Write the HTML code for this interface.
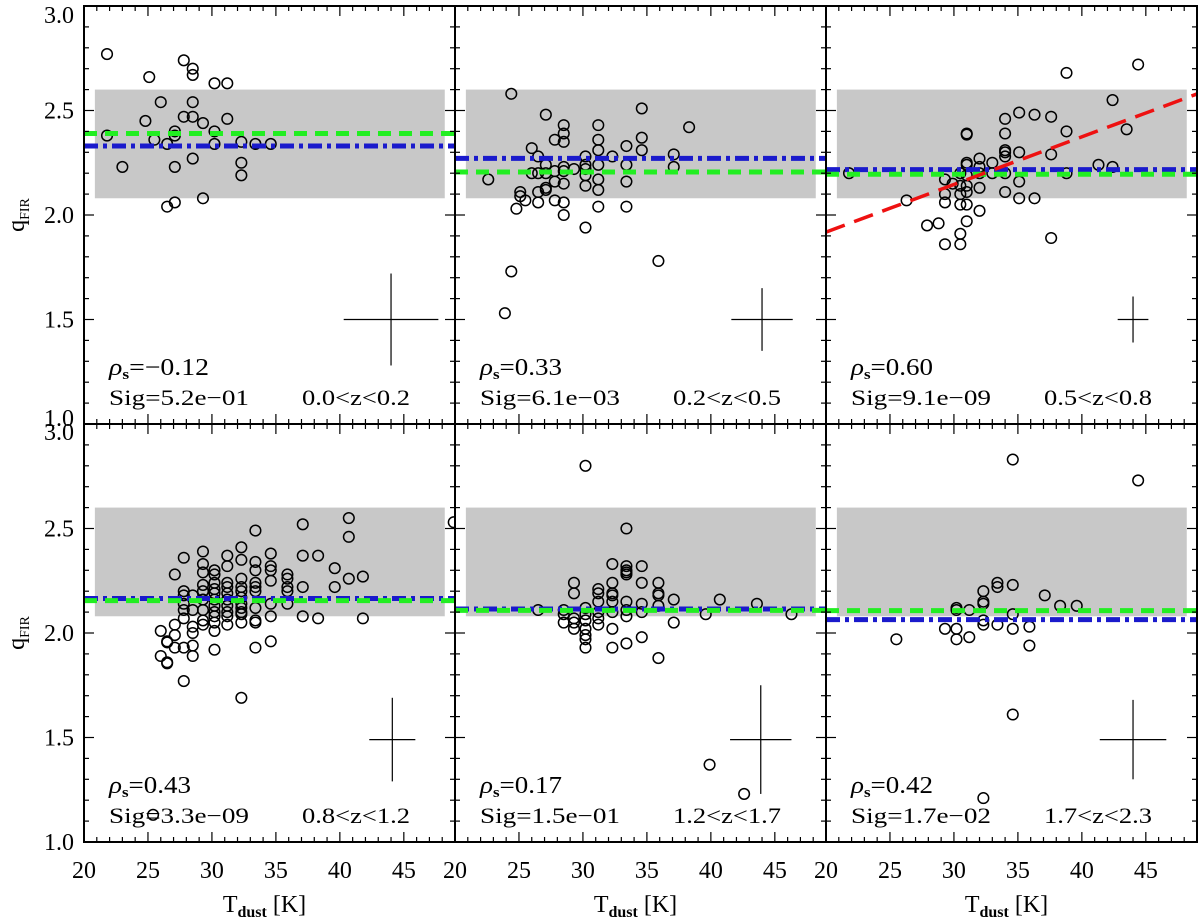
<!DOCTYPE html>
<html><head><meta charset="utf-8"><style>
html,body{margin:0;padding:0;background:#fff;}
svg{display:block;font-family:"Liberation Serif","DejaVu Serif",serif;}
</style></head><body>
<svg id="chart" width="1200" height="920" viewBox="0 0 1200 920" xmlns="http://www.w3.org/2000/svg"></svg>
<script>
// ---- data ----
const xTicks = [20,25,30,35,40,45];
const yTicks = [1.0,1.5,2.0,2.5,3.0];
const p1T = [21.8,25.1,27.8,28.5,28.5,30.2,31.2,26.0,28.5,27.8,28.5,31.2,24.8,29.3,21.8,27.1,27.1,30.2,25.5,26.5,30.2,32.3,33.4,34.6,28.5,23.0,27.1,32.3,32.3,29.3,27.1,26.5];
const p1Q = [2.77,2.66,2.74,2.70,2.67,2.63,2.63,2.54,2.54,2.47,2.47,2.46,2.45,2.44,2.38,2.40,2.38,2.40,2.36,2.34,2.34,2.35,2.34,2.34,2.27,2.23,2.23,2.25,2.19,2.08,2.06,2.04];
const p2T = [24.4,27.1,34.6,28.5,31.2,38.3,28.5,27.8,28.5,31.2,34.6,33.4,26.0,31.2,34.6,26.5,30.2,32.3,37.1,27.1,28.5,29.3,30.2,30.2,31.2,33.4,37.1,26.0,26.5,27.1,27.8,28.5,30.2,31.2,22.6,27.8,28.5,33.4,30.2,27.1,27.1,26.5,31.2,25.1,25.1,25.5,27.8,28.5,26.5,24.8,31.2,33.4,28.5,30.2,35.9,24.4,23.9];
const p2Q = [2.58,2.48,2.51,2.43,2.43,2.42,2.39,2.36,2.35,2.36,2.37,2.33,2.32,2.31,2.31,2.28,2.28,2.28,2.29,2.24,2.23,2.22,2.24,2.22,2.24,2.24,2.23,2.20,2.20,2.20,2.21,2.21,2.19,2.17,2.17,2.16,2.15,2.16,2.14,2.13,2.12,2.11,2.12,2.11,2.09,2.07,2.07,2.06,2.06,2.03,2.04,2.04,2.00,1.94,1.78,1.73,1.53];
const p3T = [44.4,38.8,42.4,34.0,35.1,36.3,37.6,38.8,43.5,34.0,31.0,31.0,34.0,34.0,34.0,35.1,37.6,32.0,31.0,31.0,33.0,32.0,41.3,42.4,21.8,30.5,31.0,32.0,33.0,34.0,38.8,29.3,29.9,30.5,31.0,32.0,35.1,30.5,31.0,29.3,34.0,26.3,29.3,35.1,36.3,30.5,31.0,32.0,31.0,28.8,27.9,30.5,29.3,30.5,37.6];
const p3Q = [2.72,2.68,2.55,2.46,2.49,2.48,2.47,2.40,2.41,2.39,2.39,2.385,2.31,2.30,2.28,2.30,2.29,2.27,2.25,2.24,2.25,2.23,2.24,2.23,2.20,2.20,2.19,2.20,2.20,2.20,2.20,2.17,2.15,2.14,2.14,2.13,2.16,2.10,2.11,2.10,2.11,2.07,2.06,2.08,2.08,2.05,2.05,2.02,1.97,1.96,1.95,1.91,1.86,1.86,1.89];
const p4T = [48.9,40.7,40.7,37.1,33.4,29.3,27.8,32.3,31.2,37.1,38.3,34.6,32.3,33.4,29.3,34.6,31.2,30.2,33.4,34.6,39.6,27.1,29.3,41.8,40.7,35.9,30.2,32.3,34.6,35.9,31.2,30.2,33.4,29.3,35.9,37.1,39.6,33.4,32.3,31.2,30.2,27.8,29.3,32.3,33.4,35.9,31.2,30.2,28.5,27.8,32.3,29.3,30.2,31.2,34.6,35.9,27.8,32.3,30.2,31.2,32.3,27.8,28.5,29.3,30.2,31.2,32.3,33.4,30.2,31.2,32.3,37.1,38.3,41.8,34.6,27.8,29.3,33.4,33.4,29.3,30.2,31.2,32.3,28.5,27.1,30.2,28.5,26.0,27.1,26.5,26.5,27.1,27.8,28.5,30.2,33.4,34.6,26.0,28.5,26.5,26.5,27.8,32.3,25.4];
const p4Q = [2.53,2.55,2.46,2.52,2.49,2.39,2.36,2.41,2.37,2.37,2.37,2.38,2.35,2.34,2.33,2.32,2.32,2.30,2.30,2.30,2.31,2.28,2.29,2.27,2.26,2.28,2.28,2.26,2.25,2.26,2.24,2.24,2.24,2.23,2.22,2.22,2.22,2.22,2.22,2.22,2.21,2.20,2.20,2.20,2.20,2.20,2.19,2.19,2.18,2.18,2.17,2.16,2.16,2.16,2.14,2.14,2.14,2.14,2.13,2.13,2.12,2.11,2.11,2.11,2.10,2.10,2.10,2.12,2.08,2.08,2.09,2.08,2.07,2.07,2.08,2.07,2.06,2.06,2.05,2.04,2.05,2.04,2.05,2.03,2.04,2.01,2.00,2.01,1.99,1.96,1.955,1.93,1.93,1.94,1.92,1.93,1.96,1.89,1.89,1.86,1.855,1.77,1.69,1.13];
const p5T = [30.2,33.4,32.3,33.4,33.4,33.4,33.4,34.6,29.3,32.3,34.6,35.9,29.3,31.2,31.2,32.3,32.3,35.9,35.9,37.1,40.7,43.6,31.2,32.3,33.4,34.6,35.9,26.5,28.5,30.2,32.3,33.4,31.2,34.6,39.6,46.3,28.5,30.2,29.3,31.2,33.4,28.5,30.2,31.2,37.1,29.3,29.3,30.2,32.3,30.2,30.2,34.6,33.4,32.3,30.2,35.9,39.9,42.6];
const p5Q = [2.80,2.50,2.33,2.32,2.30,2.29,2.28,2.32,2.24,2.24,2.24,2.24,2.19,2.21,2.19,2.19,2.18,2.19,2.18,2.16,2.16,2.14,2.15,2.15,2.15,2.14,2.13,2.11,2.11,2.12,2.10,2.11,2.10,2.10,2.09,2.09,2.09,2.09,2.07,2.07,2.08,2.05,2.06,2.04,2.05,2.05,2.02,2.02,2.02,1.99,1.97,1.98,1.95,1.93,1.93,1.88,1.37,1.23];
const p6T = [34.6,44.4,33.4,33.4,34.6,32.3,37.1,32.3,32.3,38.3,39.6,30.2,30.2,31.2,34.6,32.3,32.3,33.4,29.3,30.2,34.6,35.9,25.5,30.2,31.2,35.9,34.6,32.3];
const p6Q = [2.83,2.73,2.24,2.22,2.23,2.20,2.18,2.15,2.14,2.13,2.13,2.12,2.11,2.11,2.09,2.06,2.04,2.04,2.02,2.02,2.02,2.03,1.97,1.97,1.98,1.94,1.61,1.21];
const greenMed = [2.39,2.206,2.195,2.155,2.108,2.107];
const blueMed = [2.33,2.271,2.217,2.165,2.115,2.064];
const errT = [3.7,2.4,1.2,1.8,2.4,2.6];
const errQ = [0.22,0.15,0.11,0.20,0.26,0.19];
const crossT = [44.0,44.0,44.0,44.1,43.9,44.0];
const crossQ = [1.5,1.5,1.5,1.49,1.49,1.49];
const rhoVals = ["\u22120.12","0.33","0.60","0.43","0.17","0.42"];
const sigVals = ["5.2e\u221201","6.1e\u221203","9.1e\u221209","3.3e\u221209","1.5e\u221201","1.7e\u221202"];
const zRanges = ["0.0<z<0.2","0.2<z<0.5","0.5<z<0.8","0.8<z<1.2","1.2<z<1.7","1.7<z<2.3"];
const bandLo = 2.08, bandHi = 2.60, bandT0 = 20.85, bandT1 = 48.2;
const fitSlope = 0.0228, fitIntercept = 1.462;

const panelsT = [p1T,p2T,p3T,p4T,p5T,p6T];
const panelsQ = [p1Q,p2Q,p3Q,p4Q,p5Q,p6Q];
const NS = "http://www.w3.org/2000/svg";
const svg = document.getElementById('chart');
const colX = [84,455,826], rowY = [6,424], PW = 371, PH = 418;
const TMIN = 20, TMAX = 49, QMIN = 1.0, QMAX = 3.0;

function mk(tag, attrs, parent){
  const e = document.createElementNS(NS, tag);
  for (const k in attrs) e.setAttribute(k, attrs[k]);
  (parent||svg).appendChild(e);
  return e;
}

for (let p = 0; p < 6; p++){
  const col = p % 3, row = Math.floor(p/3);
  const x0 = colX[col], y0 = rowY[row];
  const sx = t => x0 + (t - TMIN) / (TMAX - TMIN) * PW;
  const sy = q => y0 + (QMAX - q) / (QMAX - QMIN) * PH;
  const g = mk('g', {});
  
  
  const clipId = 'clip' + p;
  const cp = mk('clipPath', {id: clipId}, g);
  mk('rect', {x: x0, y: y0, width: PW, height: PH}, cp);
  const inner = mk('g', {'clip-path': 'url(#' + clipId + ')'}, g);

  const band = mk('rect', {x: sx(bandT0), y: sy(bandHi), width: sx(bandT1)-sx(bandT0), height: sy(bandLo)-sy(bandHi), fill: '#c8c8c8'}, inner);
  
  

  const T = panelsT[p], Q = panelsQ[p];
  for (let i = 0; i < T.length; i++){
    const c = mk('circle', {cx: sx(T[i]), cy: sy(Q[i]), r: 5.3, fill: 'none', stroke: '#000', 'stroke-width': 1.5}, inner);
    
    
  }

  const bl = mk('line', {x1: x0, x2: x0+PW, y1: sy(blueMed[p]), y2: sy(blueMed[p]), stroke: '#1a1acc', 'stroke-width': 5, 'stroke-dasharray': '14 5 4 5'}, inner);
  
  
  const gl = mk('line', {x1: x0, x2: x0+PW, y1: sy(greenMed[p]), y2: sy(greenMed[p]), stroke: '#22ee22', 'stroke-width': 5, 'stroke-dasharray': '13 8'}, inner);
  
  

  if (p === 2){
    const rl = mk('line', {x1: sx(TMIN), x2: sx(TMAX), y1: sy(fitIntercept + fitSlope*TMIN), y2: sy(fitIntercept + fitSlope*TMAX), stroke: '#ee1111', 'stroke-width': 3.5, 'stroke-dasharray': '20 10'}, inner);
    
    
  }

  const eh = mk('line', {x1: sx(crossT[p]-errT[p]), x2: sx(crossT[p]+errT[p]), y1: sy(crossQ[p]), y2: sy(crossQ[p]), stroke: '#000', 'stroke-width': 1.2}, g);
  
  
  const ev = mk('line', {x1: sx(crossT[p]), x2: sx(crossT[p]), y1: sy(crossQ[p]-errQ[p]), y2: sy(crossQ[p]+errQ[p]), stroke: '#000', 'stroke-width': 1.2}, g);
  
  

  // ticks
  for (let t = 20; t <= 49; t++){
    const L = (t % 5 === 0) ? 10 : 5;
    mk('line', {x1: sx(t), x2: sx(t), y1: y0+PH, y2: y0+PH-L, stroke: '#000', 'stroke-width': 1.2}, g);
    mk('line', {x1: sx(t), x2: sx(t), y1: y0, y2: y0+L, stroke: '#000', 'stroke-width': 1.2}, g);
  }
  for (let k = 10; k <= 30; k++){
    const q = k/10, L = (k % 5 === 0) ? 10 : 5;
    mk('line', {x1: x0, x2: x0+L, y1: sy(q), y2: sy(q), stroke: '#000', 'stroke-width': 1.2}, g);
    mk('line', {x1: x0+PW, x2: x0+PW-L, y1: sy(q), y2: sy(q), stroke: '#000', 'stroke-width': 1.2}, g);
  }
  const fr = mk('rect', {x: x0, y: y0, width: PW, height: PH, fill: 'none', stroke: '#000', 'stroke-width': 2}, g);
  
  

  // annotations
  const yb = y0 + PH;
  const rt = mk('text', {x: x0+25, y: yb-49, 'font-size': 24, fill: '#000', textLength: (rhoVals[p].charAt(0) === '\u2212' ? 100 : 82), lengthAdjust: 'spacingAndGlyphs'}, g);
  
  
  const rho = mk('tspan', {'font-style': 'italic'}, rt); rho.textContent = '\u03C1';
  const sub = mk('tspan', {'font-size': 15, dy: 4, 'font-weight': 'bold'}, rt); sub.textContent = 's';
  const rv = mk('tspan', {dy: -4}, rt); rv.textContent = '=' + rhoVals[p];
  const st = mk('text', {x: x0+25, y: yb-19, 'font-size': 22, fill: '#000', textLength: 140, lengthAdjust: 'spacingAndGlyphs'}, g);
  
  
  st.textContent = 'Sig=' + sigVals[p];
  const zt = mk('text', {x: x0+218, y: yb-19, 'font-size': 22, fill: '#000', textLength: 108, lengthAdjust: 'spacingAndGlyphs'}, g);
  
  
  zt.textContent = zRanges[p];

  if (col === 0){
    for (const q of yTicks){
      let dy = 8;
      if (row === 0 && q === 3.0) dy = 17;
      if (row === 0 && q === 1.0) dy = 2;
      if (row === 1 && q === 3.0) dy = 16;
      const yl = mk('text', {x: 74, y: sy(q)+dy, 'font-size': 24, 'text-anchor': 'end', fill: '#000'});
      
      
      yl.textContent = q.toFixed(1);
    }
    const ty = mk('text', {transform: 'translate(24,' + (y0+PH/2) + ') rotate(-90)', 'font-size': 24, 'text-anchor': 'middle', fill: '#000'});
    
    
    const q1 = mk('tspan', {}, ty); q1.textContent = 'q';
    const q2 = mk('tspan', {'font-size': 14, dy: 5}, ty); q2.textContent = 'FIR';
  }
  if (row === 1){
    for (const t of xTicks){
      const xl = mk('text', {x: sx(t), y: 878, 'font-size': 24, 'text-anchor': 'middle', fill: '#000'});
      
      
      xl.textContent = String(t);
    }
    const tx = mk('text', {x: x0+PW/2 - 5, y: 912, 'font-size': 24, 'text-anchor': 'middle', fill: '#000'});
    
    
    const a = mk('tspan', {}, tx); a.textContent = 'T';
    const b = mk('tspan', {'font-size': 16, dy: 5, 'font-weight': 'bold'}, tx); b.textContent = 'dust';
    const c2 = mk('tspan', {dy: -5}, tx); c2.textContent = ' [K]';
  }
}
</script>
</body></html>
